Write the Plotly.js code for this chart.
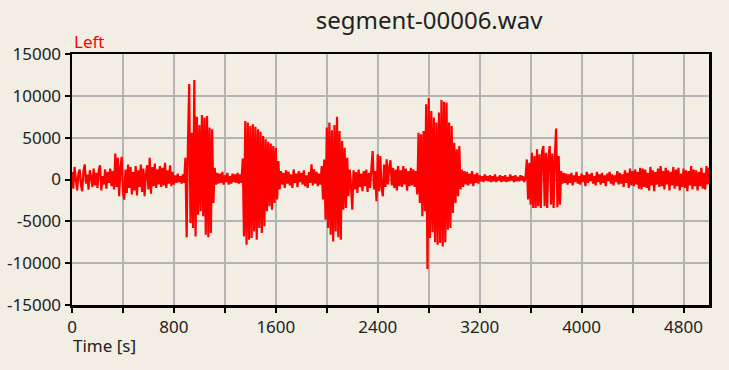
<!DOCTYPE html>
<html>
<head>
<meta charset="utf-8">
<script src="https://cdn.plot.ly/plotly-3.0.1.min.js"></script>
<style>
  html, body { margin: 0; padding: 0; background: #f2eee4; }
  #chart { width: 729px; height: 370px; }
</style>
</head>
<body>
<div id="chart"></div>
<script>
// ---- data ----
var chartTitle = "segment-00006.wav";
var channelName = "Left";
var xAxisLabel = "Time [s]";
var sampleStep = 10; // seconds between plotted samples

// amplitude samples, one row per 100 s
var samples = [
  900, -1100, 1500, 200, -1300, 700, 1200, -600, -1400, 1000,
  1800, -500, 600, -1200, 1100, 300, -900, 1300, -700, 800,
  -1000, 1100, 1700, -1300, 400, -600, 1200, -1100, 900, -400,
  1300, -800, 1000, -1200, 3100, -900, 2600, -2000, 1400, 2700,
  -1500, -2400, 1200, -1600, 1800, -1000, 1500, -1800, 900, -1300,
  1600, -1900, 1100, -900, 1800, -1500, 1300, -2000, 700, 1700,
  -1200, 2600, -1700, 1500, -800, 1900, -1000, 1200, -600, 1600,
  -900, 1400, -700, 2000, -1000, 1100, -500, 1700, -800, 900,
  -600, 500, -400, 700, -300, 400, -500, 600, -400, 2600,
  -6900, 4200, 11400, -5200, 5600, -5800, 11900, -6800, 7500, -4200,
  6500, -3800, 7700, -4400, 7400, -6600, 7600, -6900, 6200, -6400,
  6000, -2800, 1400, -600, 800, -500, 700, -400, 900, -600,
  500, -300, 800, -600, 400, -500, 700, -300, 600, -400,
  800, -500, 600, -400, 2500, -6800, 7000, -7800, 6800, -7200,
  6400, -7000, 6600, -6200, 6300, -7200, 6000, -5800, 5700, -6400,
  5200, -5600, 4800, -3800, 4500, -3200, 4300, -3600, 4000, -2800,
  3800, -2400, 2200, -1200, 1000, -600, 800, -1000, 1100, -500,
  900, -700, 600, -1000, 1200, -400, 700, -900, 1000, -300,
  800, -600, 1100, -800, 500, -1000, 900, -400, 1800, -700,
  1200, -500, 900, -800, 700, -600, 1600, -2400, 2400, -4800,
  6200, -5800, 6800, -6600, 5900, -7400, 6500, -6200, 7500, -6900,
  5800, -7200, 4600, -3600, 3800, -3400, 2600, -2000, 1200, -800,
  -3600, 1100, -1200, 900, -1600, 1200, -900, 700, -1400, 1000,
  -800, 1200, -1500, 800, -1000, 1300, 3400, -1200, 1000, -2600,
  3000, -1400, 2800, -1000, -2000, 1800, -900, 2400, -600, 1500,
  2300, -700, 1400, -1000, 1200, -1300, 1600, -800, 1100, -900,
  1600, -600, 1300, -1300, 1000, -800, 1400, -700, 1200, -900,
  1000, -1800, 5600, -2800, 5400, -4400, 5800, -3800, 9000, -10700,
  9700, -7000, 8200, -6300, 7400, -7500, 6800, -7800, 8000, -7600,
  9500, -8000, 9300, -7500, 9200, -6000, 6800, -5800, 6400, -4000,
  4400, -2800, 3600, -2000, 4000, -1200, 1200, -900, 1000, -600,
  900, -700, 700, -500, 1000, -800, 600, -400, 800, -500,
  500, -200, 400, -300, 600, -100, 400, -200, 500, -300,
  400, -200, 600, -300, 300, -100, 500, -300, 400, -200,
  500, -300, 300, -200, 600, -100, 400, -300, 500, -200,
  300, -200, 500, -100, 400, -300, 200, 2400, -2400, 2000,
  -3000, 3200, -3400, 2800, -3400, 3600, -3200, 3000, -3400, 3400,
  4000, -3200, 3200, -3400, 2900, 4000, -3000, 3100, -3400, 2800,
  6100, -3300, 2800, -3000, 1000, -500, 800, -400, 700, -600,
  600, -400, 800, -700, 500, -300, 900, -500, 400, -600,
  700, -300, 500, -800, 900, -400, 600, -200, 800, -500,
  400, -700, 900, -300, 600, -600, 800, -400, 500, -800,
  700, -200, 900, -500, 600, -700, 500, -300, 1000, -600,
  800, -500, 600, -900, 1100, -400, 800, -1000, 1300, -700,
  1000, -800, 1200, -600, 900, -1100, 1400, -1200, 1300, -900,
  1200, -1000, 800, -1300, 1500, -700, 1100, -1400, 900, -600,
  1300, -900, 1600, -800, 1000, -1200, 1400, -600, 1100, -1300,
  900, -700, 1500, -1100, 1200, -800, 1400, -1300, 700, -900,
  1300, -1000, 1100, -1400, 1000, -700, 1600, -1200, 1200, -800,
  1100, -1300, 900, -800, 1400, -1100, 800, -1200, 1600, -600,
  1400
];

var xTickVals = [0, 400, 800, 1200, 1600, 2000, 2400, 2800, 3200, 3600, 4000, 4400, 4800];
var xTickText = ["0", "", "800", "", "1600", "", "2400", "", "3200", "", "4000", "", "4800"];
var yTickVals = [-15000, -10000, -5000, 0, 5000, 10000, 15000];
var yTickText = ["-15000", "-10000", "-5000", "0", "5000", "10000", "15000"];

// ---- build ----
var times = samples.map(function (v, i) { return i * sampleStep; });

var bg = "#f2eee4";
var font = "'Noto Sans', 'Open Sans', sans-serif";

var trace = {
  type: "scatter",
  mode: "lines",
  x: times,
  y: samples,
  line: { color: "#ff0000", width: 2.2 },
  hoverinfo: "skip"
};

var axisCommon = {
  showline: true,
  linecolor: "#000000",
  linewidth: 2.5,
  mirror: true,
  ticks: "outside",
  ticklen: 5,
  tickwidth: 2,
  tickcolor: "#000000",
  showgrid: true,
  gridcolor: "#b4b4b4",
  gridwidth: 2,
  zeroline: false,
  tickfont: { family: font, size: 17, color: "#222222" },
  tickmode: "array",
  fixedrange: true
};

var layout = {
  width: 729,
  height: 370,
  paper_bgcolor: bg,
  plot_bgcolor: bg,
  showlegend: false,
  margin: { l: 72, r: 20, t: 54, b: 65, pad: 0 },
  title: {
    text: chartTitle,
    font: { family: font, size: 24, color: "#222222" },
    xref: "paper",
    x: 0.5605,
    xanchor: "center",
    yref: "container",
    y: 0.945,
    yanchor: "middle"
  },
  xaxis: Object.assign({}, axisCommon, {
    range: [0, 5000],
    tickvals: xTickVals,
    ticktext: xTickText
  }),
  yaxis: Object.assign({}, axisCommon, {
    range: [-15000, 15000],
    tickvals: yTickVals,
    ticktext: yTickText
  }),
  annotations: [
    {
      text: channelName,
      xref: "paper", yref: "paper",
      x: 0, y: 1,
      xanchor: "left", yanchor: "bottom",
      yshift: -1,
      showarrow: false,
      font: { family: font, size: 17, color: "#ff0000" }
    },
    {
      text: xAxisLabel,
      xref: "paper", yref: "paper",
      x: 0, y: 0,
      xanchor: "left", yanchor: "top",
      yshift: -27,
      xshift: -1,
      showarrow: false,
      font: { family: font, size: 17, color: "#222222" }
    }
  ]
};

Plotly.newPlot("chart", [trace], layout, { staticPlot: true, displayModeBar: false });
</script>
</body>
</html>
